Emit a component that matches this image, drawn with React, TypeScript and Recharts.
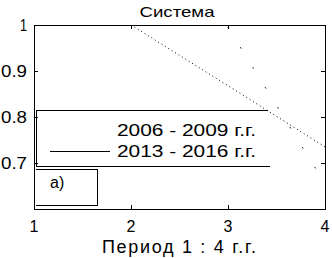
import { LineChart, Line, XAxis, YAxis, ReferenceArea, Legend } from "recharts";

// values
const periods = [1, 2, 3, 4];
const s2006 = [null, 1.0, 0.868, 0.735];
const s2013 = [null, null, 0.995, 0.655];
const xTicks = [1, 2, 3, 4];
const yTicks = [0.7, 0.8, 0.9, 1];
const seriesNames = ["2006 - 2009 г.г.", "2013 - 2016 г.г."];

const data = periods.map((p, i) => ({ x: p, a: s2006[i], b: s2013[i] }));

const FONT = "'Liberation Sans', Arial, sans-serif";
const PLOT_L = 34;
const PLOT_R = 325;
const PLOT_T = 25;
const PLOT_B = 209;

function fmtY(v: number) {
  return v === 1 ? "1" : v.toFixed(1);
}

function YTick({ y, payload }: { y?: number; payload?: { value: number } }) {
  const label = fmtY(payload!.value);
  return (
    <g>
      <line x1={PLOT_L} x2={PLOT_L + 4} y1={y} y2={y} stroke="#000" shapeRendering="crispEdges" />
      <line x1={PLOT_R - 4} x2={PLOT_R} y1={y} y2={y} stroke="#000" shapeRendering="crispEdges" />
      <text x={27} y={(y as number) + 6} textAnchor="end" fontFamily={FONT} fontSize={16} fill="#000"
        textLength={label.length > 1 ? 26 : 7} lengthAdjust="spacingAndGlyphs">{label}</text>
    </g>
  );
}

function XTick({ x, payload }: { x?: number; payload?: { value: number } }) {
  return (
    <g>
      <line x1={x} x2={x} y1={PLOT_B - 4} y2={PLOT_B} stroke="#000" shapeRendering="crispEdges" />
      <line x1={x} x2={x} y1={PLOT_T} y2={PLOT_T + 4} stroke="#000" shapeRendering="crispEdges" />
      <text x={x} y={232} textAnchor="middle" fontFamily={FONT} fontSize={16} fill="#000">{payload!.value}</text>
    </g>
  );
}

function XLabel() {
  return (
    <text x={179} y={253} textAnchor="middle" fontFamily={FONT} fontSize={18} fontWeight={400} fill="#000"
      textLength={154} lengthAdjust="spacing">Период 1 : 4 г.г.</text>
  );
}

function LegendBox({ payload }: { payload?: { value: string }[] }) {
  const items = payload || [];
  return (
    <svg width={332} height={258} style={{ position: "absolute", left: 0, top: 0, overflow: "visible" }}>
      <g stroke="#000" shapeRendering="crispEdges">
        <line x1={36} x2={268} y1={110} y2={110} />
        <line x1={36} x2={36} y1={110} y2={166} />
        <line x1={36} x2={270} y1={166} y2={166} />
        {/* a) box */}
        <line x1={36} x2={97} y1={169} y2={169} />
        <line x1={97} x2={97} y1={169} y2={206} />
        <line x1={36} x2={97} y1={205} y2={205} />
      </g>
      {items.map((it, i) => (
        <g key={it.value}>
          {i === 1 && <line x1={50} x2={110} y1={151} y2={151} stroke="#000" shapeRendering="crispEdges" />}
          <text x={117} y={136 + i * 21} fontFamily={FONT} fontSize={16} fill="#000"
            textLength={139} lengthAdjust="spacingAndGlyphs">{it.value}</text>
        </g>
      ))}
      <text x={50} y={188} fontFamily={FONT} fontSize={16} fill="#000">а)</text>
    </svg>
  );
}

export default function App() {
  return (
    <div style={{ position: "absolute", left: 0, top: 0, width: 332, height: 258, background: "#fff" }}>
      <LineChart width={332} height={258} data={data} margin={{ top: PLOT_T, right: 332 - PLOT_R, bottom: 0, left: 0 }}>
        <text x={177} y={17} textAnchor="middle" fontFamily={FONT} fontSize={15} fill="#000"
          textLength={75} lengthAdjust="spacingAndGlyphs">Система</text>
        <XAxis dataKey="x" type="number" domain={[1, 4]} ticks={xTicks} height={49}
          axisLine={false} tickLine={false} tickSize={0} tickMargin={0} tick={<XTick />}
          label={<XLabel />} />
        <YAxis type="number" domain={[0.6, 1]} ticks={yTicks} width={PLOT_L}
          axisLine={false} tickLine={false} tickSize={0} tickMargin={0} tick={<YTick />} allowDataOverflow />
        <ReferenceArea x1={1} x2={4} y1={0.6} y2={1} fill="none" stroke="#000" strokeWidth={1} shapeRendering="crispEdges" />
        <Line dataKey="a" name={seriesNames[0]} stroke="#000" strokeWidth={1} strokeDasharray="1 3" dot={false} isAnimationActive={false} />
        <Line dataKey="b" name={seriesNames[1]} stroke="#000" strokeWidth={1} strokeDasharray="1.5 22" dot={false} isAnimationActive={false} />
        <Legend content={<LegendBox />} wrapperStyle={{ position: "absolute", left: 0, top: 0, width: 0, height: 0, overflow: "visible" }} />
      </LineChart>
    </div>
  );
}
